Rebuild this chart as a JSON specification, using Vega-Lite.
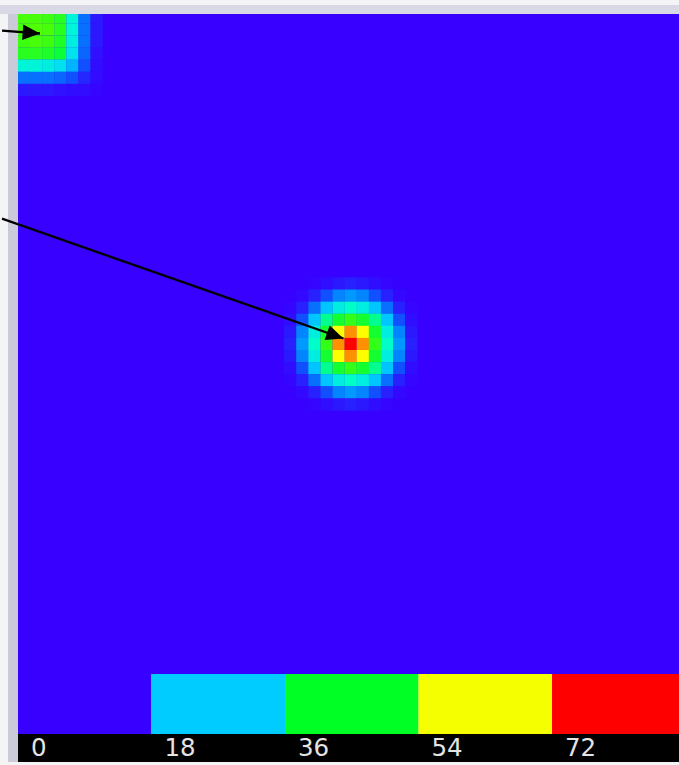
{
  "$schema": "https://vega.github.io/schema/vega-lite/v6.json",
  "background": "#F4F4F7",
  "padding": {"left": 0, "top": 5, "right": 0, "bottom": 3},
  "config": {"view": {"stroke": null}, "concat": {"spacing": 0}},
  "datasets": {
    "cells": [
      {"c":0,"r":0,"v":49},{"c":1,"r":0,"v":49},{"c":2,"r":0,"v":48},{"c":3,"r":0,"v":46},{"c":4,"r":0,"v":33},{"c":5,"r":0,"v":17},{"c":6,"r":0,"v":7},
      {"c":0,"r":1,"v":49},{"c":1,"r":1,"v":50},{"c":2,"r":1,"v":49},{"c":3,"r":1,"v":46},{"c":4,"r":1,"v":33},{"c":5,"r":1,"v":17},{"c":6,"r":1,"v":7},
      {"c":0,"r":2,"v":48},{"c":1,"r":2,"v":49},{"c":2,"r":2,"v":48},{"c":3,"r":2,"v":45},{"c":4,"r":2,"v":32},{"c":5,"r":2,"v":17},{"c":6,"r":2,"v":7},
      {"c":0,"r":3,"v":46},{"c":1,"r":3,"v":46},{"c":2,"r":3,"v":45},{"c":3,"r":3,"v":43},{"c":4,"r":3,"v":30},{"c":5,"r":3,"v":16},{"c":6,"r":3,"v":6},
      {"c":0,"r":4,"v":33},{"c":1,"r":4,"v":33},{"c":2,"r":4,"v":32},{"c":3,"r":4,"v":30},{"c":4,"r":4,"v":24},{"c":5,"r":4,"v":14},{"c":6,"r":4,"v":5},
      {"c":0,"r":5,"v":17},{"c":1,"r":5,"v":17},{"c":2,"r":5,"v":17},{"c":3,"r":5,"v":16},{"c":4,"r":5,"v":14},{"c":5,"r":5,"v":9},{"c":6,"r":5,"v":4},
      {"c":0,"r":6,"v":7},{"c":1,"r":6,"v":7},{"c":2,"r":6,"v":7},{"c":3,"r":6,"v":6},{"c":4,"r":6,"v":5},{"c":5,"r":6,"v":4},{"c":6,"r":6,"v":2},

      {"c":24,"r":22,"v":2},{"c":25,"r":22,"v":5},{"c":26,"r":22,"v":7},{"c":27,"r":22,"v":8},{"c":28,"r":22,"v":7},{"c":29,"r":22,"v":5},{"c":30,"r":22,"v":2},
      {"c":23,"r":23,"v":3},{"c":24,"r":23,"v":8},{"c":25,"r":23,"v":14},{"c":26,"r":23,"v":19},{"c":27,"r":23,"v":21},{"c":28,"r":23,"v":19},{"c":29,"r":23,"v":14},{"c":30,"r":23,"v":8},{"c":31,"r":23,"v":3},
      {"c":22,"r":24,"v":2},{"c":23,"r":24,"v":8},{"c":24,"r":24,"v":17},{"c":25,"r":24,"v":26},{"c":26,"r":24,"v":32},{"c":27,"r":24,"v":35},{"c":28,"r":24,"v":32},{"c":29,"r":24,"v":26},{"c":30,"r":24,"v":17},{"c":31,"r":24,"v":8},{"c":32,"r":24,"v":2},
      {"c":22,"r":25,"v":5},{"c":23,"r":25,"v":14},{"c":24,"r":25,"v":26},{"c":25,"r":25,"v":38},{"c":26,"r":25,"v":44},{"c":27,"r":25,"v":47},{"c":28,"r":25,"v":44},{"c":29,"r":25,"v":38},{"c":30,"r":25,"v":26},{"c":31,"r":25,"v":14},{"c":32,"r":25,"v":5},
      {"c":22,"r":26,"v":7},{"c":23,"r":26,"v":19},{"c":24,"r":26,"v":32},{"c":25,"r":26,"v":44},{"c":26,"r":26,"v":60},{"c":27,"r":26,"v":70},{"c":28,"r":26,"v":60},{"c":29,"r":26,"v":44},{"c":30,"r":26,"v":32},{"c":31,"r":26,"v":19},{"c":32,"r":26,"v":7},
      {"c":22,"r":27,"v":8},{"c":23,"r":27,"v":21},{"c":24,"r":27,"v":35},{"c":25,"r":27,"v":47},{"c":26,"r":27,"v":70},{"c":27,"r":27,"v":82},{"c":28,"r":27,"v":70},{"c":29,"r":27,"v":47},{"c":30,"r":27,"v":35},{"c":31,"r":27,"v":21},{"c":32,"r":27,"v":8},
      {"c":22,"r":28,"v":7},{"c":23,"r":28,"v":19},{"c":24,"r":28,"v":32},{"c":25,"r":28,"v":44},{"c":26,"r":28,"v":60},{"c":27,"r":28,"v":70},{"c":28,"r":28,"v":60},{"c":29,"r":28,"v":44},{"c":30,"r":28,"v":32},{"c":31,"r":28,"v":19},{"c":32,"r":28,"v":7},
      {"c":22,"r":29,"v":5},{"c":23,"r":29,"v":14},{"c":24,"r":29,"v":26},{"c":25,"r":29,"v":38},{"c":26,"r":29,"v":44},{"c":27,"r":29,"v":47},{"c":28,"r":29,"v":44},{"c":29,"r":29,"v":38},{"c":30,"r":29,"v":26},{"c":31,"r":29,"v":14},{"c":32,"r":29,"v":5},
      {"c":22,"r":30,"v":2},{"c":23,"r":30,"v":8},{"c":24,"r":30,"v":17},{"c":25,"r":30,"v":26},{"c":26,"r":30,"v":32},{"c":27,"r":30,"v":35},{"c":28,"r":30,"v":32},{"c":29,"r":30,"v":26},{"c":30,"r":30,"v":17},{"c":31,"r":30,"v":8},{"c":32,"r":30,"v":2},
      {"c":23,"r":31,"v":3},{"c":24,"r":31,"v":8},{"c":25,"r":31,"v":14},{"c":26,"r":31,"v":19},{"c":27,"r":31,"v":21},{"c":28,"r":31,"v":19},{"c":29,"r":31,"v":14},{"c":30,"r":31,"v":8},{"c":31,"r":31,"v":3},
      {"c":24,"r":32,"v":2},{"c":25,"r":32,"v":5},{"c":26,"r":32,"v":7},{"c":27,"r":32,"v":8},{"c":28,"r":32,"v":7},{"c":29,"r":32,"v":5},{"c":30,"r":32,"v":2}
    ],
    "arrows": [
      {"id": 1, "x0": -1.82, "y0": 1.09, "x1": 1.318, "y1": 1.335},
      {"id": 2, "x0": -1.82, "y0": 16.64, "x1": 26.40, "y1": 26.54}
    ],
    "bar": [
      {"lo": 0, "hi": 18},
      {"lo": 18, "hi": 36},
      {"lo": 36, "hi": 54},
      {"lo": 54, "hi": 72},
      {"lo": 72, "hi": 90}
    ]
  },
  "bounds": "flush",
  "spacing": 0,
  "vconcat": [
    {
      "width": 679, "height": 9,
      "data": {"values": []},
      "mark": {"type": "rect"},
      "encoding": {},
      "view": {"fill": "#D9D9E5", "stroke": null}
    },
    {
      "bounds": "flush",
      "spacing": 0,
      "hconcat": [
        {
          "width": 8, "height": 748,
          "data": {"values": []},
          "mark": {"type": "rect"},
          "encoding": {},
          "view": {"fill": "#F4F4F7", "stroke": null}
        },
        {
          "width": 10, "height": 748,
          "data": {"values": []},
          "mark": {"type": "rect"},
          "encoding": {},
          "view": {"fill": "#CACAD8", "stroke": null}
        },
        {
          "bounds": "flush",
          "spacing": 0,
          "resolve": {"scale": {"color": "independent", "x": "independent", "y": "independent"}},
          "vconcat": [
            {
              "width": 661, "height": 660,
              "view": {"fill": "#3800FF", "stroke": null},
              "layer": [
                {
                  "data": {"name": "cells"},
                  "mark": {"type": "rect", "width": 12.3, "height": 12.3, "clip": true},
                  "encoding": {
                    "x": {"field": "c", "type": "quantitative", "scale": {"domain": [-0.5, 54.13], "nice": false, "zero": false}, "axis": null},
                    "y": {"field": "r", "type": "quantitative", "scale": {"domain": [-0.277, 54.27], "nice": false, "zero": false, "reverse": true}, "axis": null},
                    "color": {
                      "field": "v", "type": "quantitative",
                      "scale": {
                        "domain": [0, 6, 14, 20, 28, 35, 42, 50, 60, 70, 82],
                        "range": ["#3800FF", "#3010FF", "#1050FF", "#0090FF", "#00D8FF", "#00FFC8", "#00FF40", "#50FF00", "#FFFF00", "#FF9000", "#FF0000"],
                        "interpolate": "rgb"
                      },
                      "legend": null
                    }
                  }
                },
                {
                  "data": {"name": "arrows"},
                  "mark": {"type": "rule", "color": "black", "strokeWidth": 2.3, "clip": false},
                  "encoding": {
                    "x": {"field": "x0", "type": "quantitative", "scale": {"domain": [-0.5, 54.13], "nice": false, "zero": false}, "axis": null},
                    "y": {"field": "y0", "type": "quantitative", "scale": {"domain": [-0.277, 54.27], "nice": false, "zero": false, "reverse": true}, "axis": null},
                    "x2": {"field": "x1"},
                    "y2": {"field": "y1"}
                  }
                },
                {
                  "data": {"name": "arrows"},
                  "transform": [{"filter": "datum.id == 1"}],
                  "mark": {"type": "point", "shape": "M0,0L-1,-0.45L-1,0.45Z", "filled": true, "fill": "black", "opacity": 1, "strokeWidth": 0, "size": 1200, "angle": 4.3, "clip": false},
                  "encoding": {
                    "x": {"field": "x1", "type": "quantitative", "scale": {"domain": [-0.5, 54.13], "nice": false, "zero": false}, "axis": null},
                    "y": {"field": "y1", "type": "quantitative", "scale": {"domain": [-0.277, 54.27], "nice": false, "zero": false, "reverse": true}, "axis": null}
                  }
                },
                {
                  "data": {"name": "arrows"},
                  "transform": [{"filter": "datum.id == 2"}],
                  "mark": {"type": "point", "shape": "M0,0L-1,-0.45L-1,0.45Z", "filled": true, "fill": "black", "opacity": 1, "strokeWidth": 0, "size": 1200, "angle": 19.3, "clip": false},
                  "encoding": {
                    "x": {"field": "x1", "type": "quantitative", "scale": {"domain": [-0.5, 54.13], "nice": false, "zero": false}, "axis": null},
                    "y": {"field": "y1", "type": "quantitative", "scale": {"domain": [-0.277, 54.27], "nice": false, "zero": false, "reverse": true}, "axis": null}
                  }
                }
              ]
            },
            {
              "width": 661, "height": 60,
              "view": {"stroke": null},
              "data": {"name": "bar"},
              "mark": {"type": "rect", "clip": true},
              "encoding": {
                "x": {"field": "lo", "type": "quantitative", "scale": {"domain": [0, 89.12], "nice": false, "zero": false}, "axis": null},
                "x2": {"field": "hi"},
                "color": {
                  "field": "lo", "type": "ordinal",
                  "scale": {"domain": [0, 18, 36, 54, 72], "range": ["#3800FF", "#00CCFF", "#00FF24", "#F6FF00", "#FF0000"]},
                  "legend": null
                }
              }
            },
            {
              "width": 661, "height": 28,
              "view": {"fill": "#000000", "stroke": null},
              "data": {"name": "bar"},
              "mark": {"type": "text", "align": "left", "baseline": "middle", "dx": 13, "dy": 1, "font": "DejaVu Sans", "fontSize": 24.5, "color": "#E4E4E4"},
              "encoding": {
                "x": {"field": "lo", "type": "quantitative", "scale": {"domain": [0, 89.12], "nice": false, "zero": false}, "axis": null},
                "text": {"field": "lo", "type": "quantitative"}
              }
            }
          ]
        }
      ]
    }
  ]
}
